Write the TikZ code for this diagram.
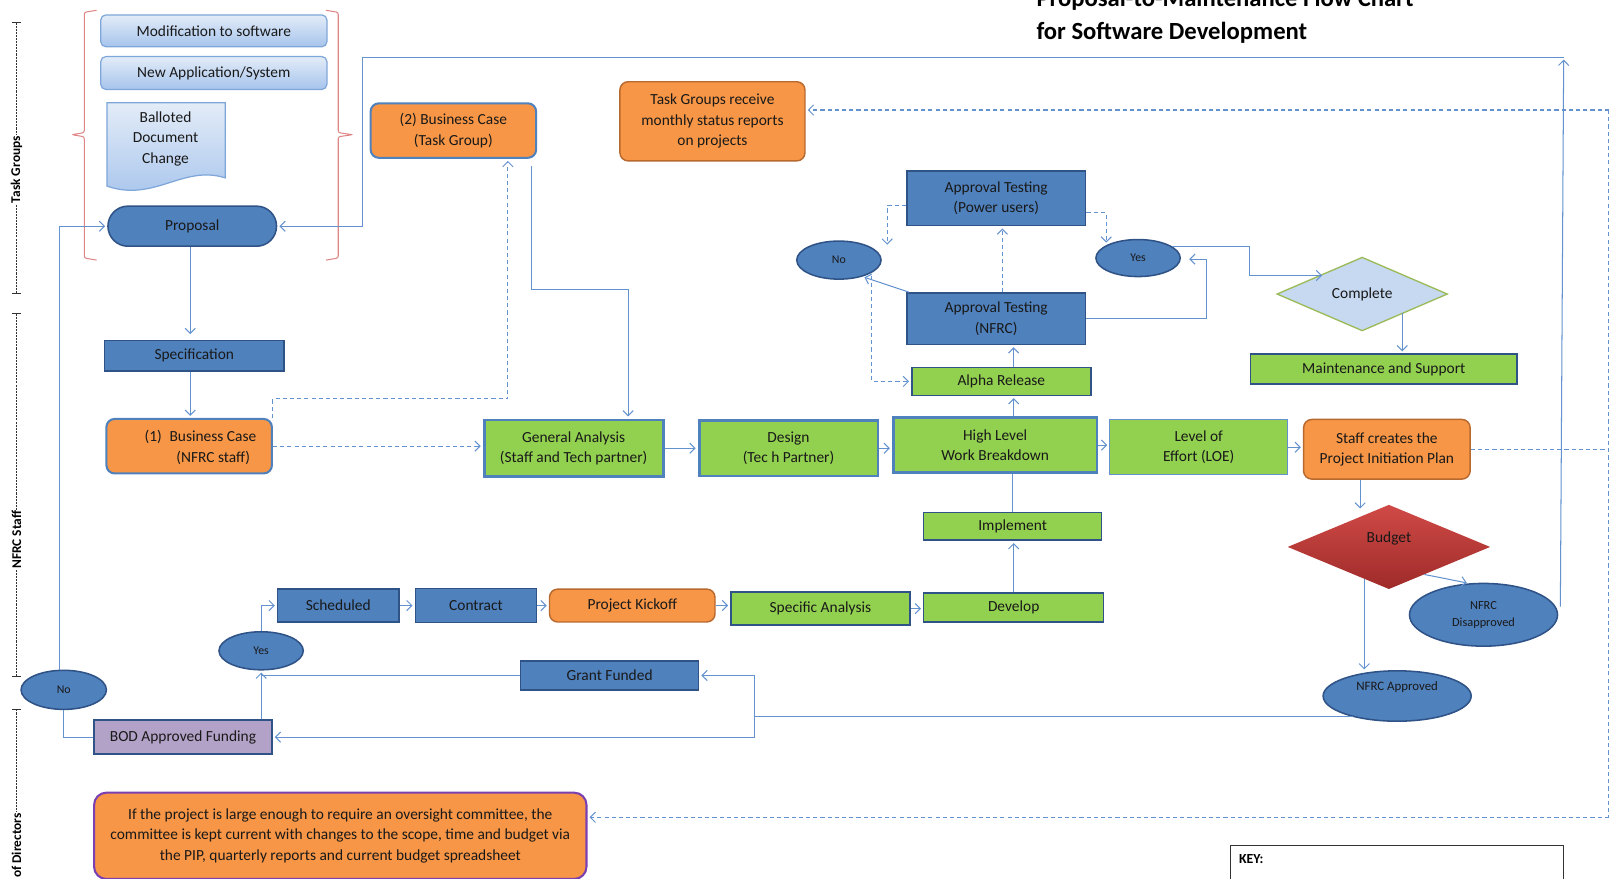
\documentclass[tikz,border=0pt]{standalone}
\usepackage{fontspec}
\setmainfont{Carlito}
\usetikzlibrary{arrows.meta,shapes.geometric,shapes.misc,calc}
\definecolor{dblue}{HTML}{4F81BD}
\definecolor{dbord}{HTML}{2F5387}
\definecolor{lgreen}{HTML}{92D050}
\definecolor{orng}{HTML}{F79646}
\definecolor{obord}{HTML}{B8692E}
\definecolor{lnk}{HTML}{6392CF}
\definecolor{purp}{HTML}{B3A2C7}
\definecolor{brk}{HTML}{E08585}
\definecolor{lblue}{HTML}{C6D9F1}
\definecolor{lbtop}{HTML}{E3ECF8}
\definecolor{lbbot}{HTML}{A6C4EC}
\definecolor{lbbord}{HTML}{7FA6D9}
\definecolor{vio}{HTML}{7A3FB0}
\definecolor{rtop}{HTML}{D04A47}
\definecolor{rbot}{HTML}{9E2B29}
\definecolor{gbord}{HTML}{9BBB59}
\begin{document}
\begin{tikzpicture}[x=1pt,y=-1pt,
  >={Straight Barb[length=5pt,width=10pt]},
  base/.style={font=\fontsize{15}{20}\selectfont, align=center, inner sep=1pt, text=black!90},
  sz/.style 2 args={minimum width=#1pt, minimum height=#2pt},
  lbox/.style={base, rectangle, rounded corners=5pt, top color=lbtop, bottom color=lbbot, draw=lbbord, line width=1.2pt},
  dbox/.style={base, rectangle, fill=dblue, draw=dbord, line width=1.5pt},
  gbox/.style={base, rectangle, fill=lgreen, draw=dbord, line width=1.5pt},
  gthick/.style={base, rectangle, fill=lgreen, draw=dblue, line width=2.8pt},
  gthin/.style={base, rectangle, fill=lgreen, draw=lnk, line width=1pt},
  obox/.style={base, rectangle, rounded corners=8pt, fill=orng, draw=obord, line width=1.4pt},
  obblue/.style={base, rectangle, rounded corners=8pt, fill=orng, draw=dblue, line width=2pt},
  oval/.style={base, ellipse, fill=dblue, draw=dbord, line width=1.5pt, inner sep=0pt},
  small/.style={font=\fontsize{11.5}{16}\selectfont},
  cn/.style={draw=lnk, line width=1pt},
  dcn/.style={cn, dash pattern=on 4pt off 3pt},
  arr/.style={->, shorten >=2pt},
  lanetxt/.style={font=\fontsize{13}{14}\selectfont\bfseries, fill=white, inner sep=1pt, rotate=90},
  lane/.style={draw=black!80, line width=0.8pt, dash pattern=on 2pt off 1pt}
]
\useasboundingbox (0,0) rectangle (1568,855);

% ---------- title ----------
\node[anchor=base west, font=\fontsize{24}{28}\selectfont\bfseries, inner sep=0pt] (title1) at (1008,6) {Proposal-to-Maintenance Flow Chart};
\node[anchor=base west, font=\fontsize{24}{28}\selectfont\bfseries, inner sep=0pt] (title2) at (1008,38) {for Software Development};

% ---------- lanes ----------
\draw[lane] (16,22) -- (16,285);
\draw[black!80, line width=0.8pt] (12,22) -- (20,22) (12,285) -- (20,285);
\node[lanetxt] (laneA) at (16,165) {Task Groups};
\draw[lane] (16,305) -- (16,658);
\draw[black!80, line width=0.8pt] (12,305) -- (20,305) (12,658) -- (20,658);
\node[lanetxt] (laneB) at (16,525) {NFRC Staff};
\draw[lane] (16,690) -- (16,860);
\draw[black!80, line width=0.8pt] (12,690) -- (20,690);
\node[lanetxt] (laneC) at (16,840) {Board of Directors};

% ---------- braces ----------
\draw[brk, line width=1pt, rounded corners=2pt] (94,10) -- (82,12) -- (82,129) -- (70,131) -- (82,133) -- (82,251) -- (94,253);
\draw[brk, line width=1pt, rounded corners=2pt] (317,10) -- (329,12) -- (329,129) -- (343,131) -- (329,133) -- (329,251) -- (317,253);

% ---------- top group ----------
\node[lbox, sz={220}{31}] (mod) at (208,30) {Modification to software};
\node[lbox, sz={220}{32}] (newapp) at (208,71) {New Application/System};
\path[top color=lbtop, bottom color=lbbot, draw=lbbord, line width=1.2pt]
  (104,100) -- (219,100) -- (219,173) .. controls (178,160) and (150,197) .. (104,181) -- cycle;
\node[base] (ballot) at (161,135) {Balloted\\Document\\Change};
\node[base, rounded rectangle, fill=dblue, draw=dbord, line width=1.5pt, sz={166}{39}] (proposal) at (187,220) {Proposal};

% ---------- nodes ----------
\node[dbox, sz={175}{30}] (spec) at (189,346) {Specification};
\node[obblue, sz={161}{53}] (bc1) at (184,434) {};
\node[base, align=right] (bc1t) at (195,435) {(1)\enspace Business Case\\(NFRC staff)\hspace*{6pt}};
\node[obblue, sz={161}{53}] (bc2) at (441,127) {(2) Business Case\\(Task Group)};
\node[obox, sz={180}{77}] (tgr) at (693,118) {Task Groups receive\\monthly status reports\\on projects};

\node[dbox, sz={174}{53}] (atpu) at (969,193) {Approval Testing\\(Power users)};
\node[oval, small, sz={82}{37}] (no1) at (816,253) {No};
\node[oval, small, sz={82}{36}] (yes1) at (1107,251) {Yes};
\node[dbox, sz={174}{50}] (atn) at (969,310) {Approval Testing\\(NFRC)};
\node[base, diamond, fill=lblue, draw=gbord, line width=1.3pt, sz={166}{67}, inner sep=0pt] (complete) at (1325,286) {Complete};
\node[gbox, sz={259}{29}] (maint) at (1346,359) {Maintenance and Support};
\node[gbox, sz={174}{27}] (alpha) at (974,371) {Alpha Release};

\node[gthick, sz={174}{55}] (ga) at (558,436) {General Analysis\\(Staff and Tech partner)};
\node[gthick, sz={174}{54}] (design) at (767,436) {Design\\(Tec h Partner)};
\node[gthick, sz={198}{53}] (hl) at (968,433) {High Level\\Work Breakdown};
\node[gthin, sz={173}{54}] (loe) at (1166,435) {Level of\\Effort (LOE)};
\node[obox, sz={162}{58}] (pip) at (1349,437) {Staff creates the\\Project Initiation Plan};

\node[gbox, sz={173}{27}] (impl) at (985,512) {Implement};
\node[base, diamond, top color=rtop, bottom color=rbot, draw=none, sz={197}{82}, inner sep=0pt] (budget) at (1351,532) {};
\node[base] (budgett) at (1351,524) {Budget};
\node[oval, font=\fontsize{12}{16}\selectfont, sz={144}{61}] (nfrcd) at (1443,598) {NFRC\\Disapproved};
\node[oval, font=\fontsize{12.5}{14}\selectfont, sz={144}{49}] (nfrca) at (1359,677) {NFRC Approved\\[6pt]};

\node[dbox, sz={118}{32}] (sched) at (329,589) {Scheduled};
\node[dbox, sz={118}{33}] (contract) at (463,589) {Contract};
\node[obox, sz={161}{32}] (kickoff) at (615,589) {Project Kickoff};
\node[gbox, sz={174}{32}] (specan) at (798,592) {Specific Analysis};
\node[gbox, sz={175}{28}] (develop) at (986,591) {Develop};

\node[oval, small, sz={82}{37}] (yes2) at (254,633) {Yes};
\node[oval, small, sz={83}{38}] (no2) at (62,671) {No};
\node[dbox, sz={173}{28}] (grant) at (593,657) {Grant Funded};
\node[base, rectangle, fill=purp, draw=dbord, line width=1.5pt, sz={173}{33}] (bod) at (178,717) {BOD Approved Funding};

\node[base, rectangle, rounded corners=12pt, fill=orng, draw=vio, line width=2pt, sz={479}{84}] (note) at (331,813)
  {If the project is large enough to require an oversight committee, the\\committee is kept current with changes to the scope, time and budget via\\the PIP, quarterly reports and current budget spreadsheet};

\node[draw=black!80, line width=1pt, rectangle, sz={324}{60}] (key) at (1359,852) {};
\node[anchor=west, font=\fontsize{13.5}{14}\selectfont\bfseries, inner sep=0pt] (keyt) at (1205,836) {KEY:};

% ---------- connectors ----------
\coordinate (t1) at (1521,56);
\coordinate (t2) at (353,56);
\draw[cn,arr] ($(nfrcd.east)+(2,-8)$) -- (t1);
\draw[cn,arr] (t1) -- (t2) |- (proposal.east);

\draw[cn,arr] (proposal.south -| 185,0) -- (185,327);
\draw[cn,arr] (spec.south -| 185,0) -- (bc1.north -| 185,0);

\draw[dcn,arr] (bc1.east) -- (bc1.east -| ga.west);
\coordinate (c1) at (494,388);
\draw[dcn,arr] (bc1.north east) |- (c1) -- (c1 |- bc2.south);
\coordinate (c2) at (517,282);
\coordinate (c3) at (611,282);
\draw[cn,arr] ($(c2 |- bc2.south)+(0,7)$) -- (c2) -- (c3) -- (c3 |- ga.north);

\draw[cn,arr] (ga.east) -- (ga.east -| design.west);
\draw[cn,arr] (design.east) -- (design.east -| hl.west);
\draw[cn,arr] (hl.east) -- (hl.east -| loe.west);
\draw[cn,arr] (loe.east) -- (loe.east -| pip.west);

\draw[cn,arr] ($(pip.south)+(-26,0)$) -- ++(0,30);
\draw[cn,arr] ($(budget.south)!0.35!(budget.east)$) -- (nfrcd.115);
\draw[cn,arr] ($(budget.south)+(-24,-10)$) -- ($(budget.south)+(-24,80)$);

\coordinate (j1) at (nfrca.205 -| 734,0);
\draw[cn] (nfrca.205) -- (j1);
\draw[cn,arr] (j1) |- (grant.east);
\draw[cn,arr] (j1) |- (bod.east);
\draw[cn] (grant.west) -- (grant.west -| yes2.south);
\draw[cn,arr] (bod.north -| yes2.south) -- (yes2.south);
\draw[cn,arr] (yes2.north) |- (sched.west);
\draw[cn] (bod.west) -| (no2.south);
\draw[cn,arr] (no2.north -| 58,0) |- (proposal.west);

\draw[cn,arr] (sched.east) -- (sched.east -| contract.west);
\draw[cn,arr] (contract.east) -- (contract.east -| kickoff.west);
\draw[cn,arr] (kickoff.east) -- (kickoff.east -| specan.west);
\draw[cn,arr] (specan.east) -- (specan.east -| develop.west);

\draw[cn,arr] (develop.north) -- (develop.north |- impl.south);
\draw[cn] (impl.north) -- (impl.north |- hl.south);
\draw[cn,arr] (hl.north -| 986,0) -- (alpha.south -| 986,0);
\draw[cn,arr] (alpha.north -| 986,0) -- (atn.south -| 986,0);
\draw[dcn,arr] (atn.north -| 975,0) -- (atpu.south -| 975,0);
\draw[cn,arr] ($(atn.north west)+(3,0)$) -- (no1.-35);
\coordinate (j2) at (1174,310);
\draw[cn,arr] (atn.east) -- (j2) |- ($(yes1.east)+(6,1)$);
\draw[dcn,arr] ($(atpu.west)+(0,7)$) -| ($(no1.center)+(47,-13)$);
\draw[dcn,arr] ($(atpu.east)+(0,14)$) -| ($(yes1.center)+(-31,-13)$);
\draw[dcn,arr] ($(no1.center)+(32,15)$) |- (alpha.west);
\coordinate (j3) at (1215,240);
\draw[cn,arr] ($(yes1.center)+(33,-11)$) -- (j3) |- (1288,268);
\draw[cn,arr] (1364,304) -- (maint.north -| 1364,0);

\coordinate (r1) at (1565,107);
\coordinate (r2) at (1565,795);
\draw[dcn] (pip.east) -- (pip.east -| r1);
\draw[dcn] (r1) -- (r2);
\draw[dcn,arr] (r1) -- (r1 -| tgr.east);
\draw[dcn,arr] (r2) -- (r2 -| note.east);
\end{tikzpicture}
\end{document}
